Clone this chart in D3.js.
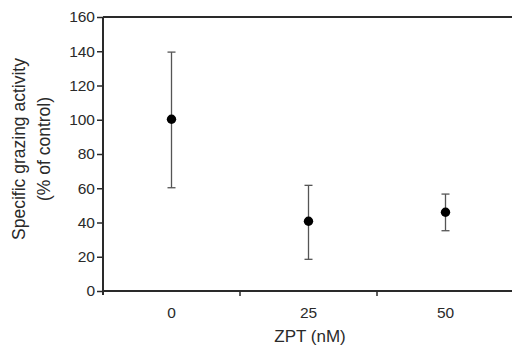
<!DOCTYPE html>
<html>
<head>
<meta charset="utf-8">
<script src="https://cdn.jsdelivr.net/npm/d3@7"></script>
<style>
body { margin: 0; background: #fff; }
svg text { font-family: "Liberation Sans", Arial, sans-serif; fill: #2a2a2a; }
</style>
</head>
<body>
<svg id="chart" width="512" height="347"></svg>
<script>
var doses = ["0", "25", "50"];
var means = [100.3, 40.7, 46.0];
var upper = [139.5, 61.7, 56.6];
var lower = [60.3, 18.5, 35.2];
var yTicks = [0, 20, 40, 60, 80, 100, 120, 140, 160];

var svg = d3.select("#chart");
var margin = { left: 103, top: 17, right: -2, bottom: 56 };
var width = 512 - margin.left - margin.right,
	height = 347 - margin.top - margin.bottom;

var g = svg.append("g")
	.attr("transform", "translate(" + margin.left + "," + margin.top + ")");

var x = d3.scaleBand().domain(doses).range([0, width]);
var y = d3.scaleLinear().domain([0, 160]).range([height, 0]);

// top border
g.append("line")
	.attr("x1", 0).attr("x2", width)
	.attr("y1", 0).attr("y2", 0)
	.attr("stroke", "#2a2a2a").attr("stroke-width", 2);

// y axis
var yAxis = g.append("g")
	.call(d3.axisLeft(y).tickValues(yTicks).tickSize(6).tickPadding(2));
yAxis.select(".domain").attr("stroke", "#2a2a2a").attr("stroke-width", 2)
	.attr("d", "M0,0V" + (height + 4));
yAxis.selectAll(".tick line").attr("stroke", "#2a2a2a").attr("stroke-width", 1.5);
yAxis.selectAll("text").style("font-size", "15.5px");

// x axis with ticks at band boundaries
var xAxis = g.append("g").attr("transform", "translate(0," + height + ")");
xAxis.append("line")
	.attr("x1", 0).attr("x2", width)
	.attr("stroke", "#2a2a2a").attr("stroke-width", 2);
xAxis.selectAll(".sep")
	.data(doses.slice(1))
	.enter()
	.append("line")
	.attr("class", "sep")
	.attr("x1", function(d) { return x(d); })
	.attr("x2", function(d) { return x(d); })
	.attr("y1", 0).attr("y2", 5)
	.attr("stroke", "#2a2a2a").attr("stroke-width", 1.5);
xAxis.selectAll(".lbl")
	.data(doses)
	.enter()
	.append("text")
	.attr("class", "lbl")
	.attr("x", function(d) { return x(d) + x.bandwidth() / 2; })
	.attr("y", 27)
	.attr("text-anchor", "middle")
	.style("font-size", "15.5px")
	.text(function(d) { return d; });

// error bars
var pts = doses.map(function(d, i) {
	return { dose: d, mean: means[i], hi: upper[i], lo: lower[i] };
});
var cx = function(d) { return x(d.dose) + x.bandwidth() / 2; };

var err = g.selectAll(".err").data(pts).enter().append("g").attr("class", "err")
	.attr("stroke", "#555").attr("stroke-width", 1.3);
err.append("line")
	.attr("x1", cx).attr("x2", cx)
	.attr("y1", function(d) { return y(d.hi); })
	.attr("y2", function(d) { return y(d.lo); });
err.append("line")
	.attr("x1", function(d) { return cx(d) - 4; })
	.attr("x2", function(d) { return cx(d) + 4; })
	.attr("y1", function(d) { return y(d.hi); })
	.attr("y2", function(d) { return y(d.hi); });
err.append("line")
	.attr("x1", function(d) { return cx(d) - 4; })
	.attr("x2", function(d) { return cx(d) + 4; })
	.attr("y1", function(d) { return y(d.lo); })
	.attr("y2", function(d) { return y(d.lo); });

g.selectAll(".dot").data(pts).enter().append("circle")
	.attr("class", "dot")
	.attr("cx", cx)
	.attr("cy", function(d) { return y(d.mean); })
	.attr("r", 4.7)
	.attr("fill", "#000");

// axis titles
svg.append("text")
	.attr("x", 310).attr("y", 342)
	.attr("text-anchor", "middle")
	.style("font-size", "17px")
	.text("ZPT (nM)");

var yl = svg.append("text")
	.attr("transform", "translate(0,149) rotate(-90)")
	.attr("text-anchor", "middle")
	.style("font-size", "17.5px");
yl.append("tspan").attr("x", 0).attr("y", 25).text("Specific grazing activity");
yl.append("tspan").attr("x", 0).attr("y", 50).text("(% of control)");
</script>
</body>
</html>
